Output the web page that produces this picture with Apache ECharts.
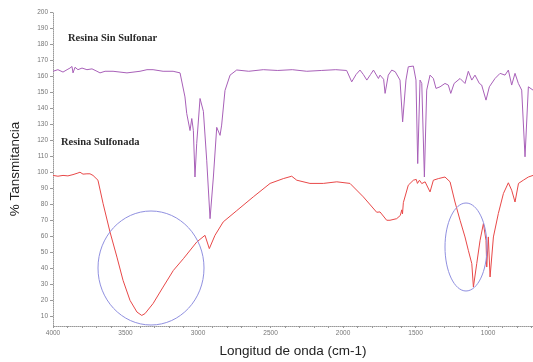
<!DOCTYPE html>
<html>
<head>
<meta charset="utf-8">
<script src="https://cdn.jsdelivr.net/npm/echarts@6/dist/echarts.min.js"></script>
<style>
html,body{margin:0;padding:0;background:#fff;}
#chart{width:533px;height:362px;}
</style>
</head>
<body>
<div id="chart"></div>
<script>
// Wavenumber (cm-1), transmittance (%)
const sinSulfonarWave = [4000,3966,3931,3903,3883,3869,3862,3848,3828,3800,3766,3731,3697,3676,3641,3586,3490,3400,3352,3310,3241,3172,3124,3112,3090,3078,3067,3055,3043,3032,3021,3009,2986,2963,2940,2917,2894,2871,2860,2848,2837,2814,2779,2733,2650,2550,2450,2350,2250,2150,2050,1975,1940,1910,1883,1860,1836,1810,1790,1756,1745,1720,1710,1688,1664,1640,1607,1589,1566,1550,1515,1497,1485,1469,1457,1439,1423,1400,1377,1359,1331,1297,1274,1257,1234,1193,1159,1136,1112,1090,1060,1044,1014,991,952,917,883,860,837,814,791,768,745,722,690];
const sinSulfonarT = [163,164,162.5,164,165,166,162,165.5,164,165,164,164.5,163,162,163,163,162,163,164,164,163,163,162,161,147,136.7,135.6,126,133.5,126,97,118,146,138,107.5,71,97,128,128,123,129.4,151,160.6,163.8,163,164,163.5,164,163,163.5,164,163.5,156.4,161,163.75,161,157.5,161,163.75,158.5,160.6,158,149.2,160.6,163.75,162.7,157.5,131.4,157.5,165.8,166.25,157.5,105.4,157.5,155.4,97,151.25,160.6,158.5,152.3,153.3,155.4,154.4,149.2,155.4,158.5,155.4,163,157.5,160.6,155.4,154.4,145,153.3,158.5,161.7,160.6,163.75,154.4,161.7,155.4,151.25,109.6,153.3,151.25];

const sulfonadaWave = [4000,3966,3931,3897,3862,3828,3814,3793,3766,3745,3724,3690,3655,3607,3559,3517,3469,3421,3388,3366,3310,3241,3170,3101,3009,2952,2922,2883,2826,2733,2619,2503,2412,2354,2319,2228,2136,2043,1952,1860,1768,1745,1699,1676,1630,1605,1595,1590,1584,1550,1515,1495,1487,1473,1457,1434,1400,1377,1343,1297,1262,1228,1193,1159,1136,1112,1101,1078,1055,1032,1014,1009,998,986,963,929,894,860,837,814,790,757,722,690];
const sulfonadaT = [98,97.5,98,97.7,98.5,99.5,100,98.8,99,99,98,95,80.6,62.7,47,32.5,20,12.7,10.6,11.7,18,28.3,38.7,46,56.4,60.6,52.3,60.6,69,76,84.6,93,96,97.5,95,93,93,94,93,84.6,75,75.2,70,70,71,73,76.5,74,81,91.9,95,95.5,93,95,92.9,94,87.7,95,96,97,94,81.4,70,59.6,51.25,42.9,28.3,42.9,57.5,67.9,57.5,40.8,59.6,34.6,59.6,74.2,86.7,93.4,88.75,81.4,93,95,97,98];

const yTicks = [10,20,30,40,50,60,70,80,90,100,110,120,130,140,150,160,170,180,190,200];
const xTicks = [1000,1500,2000,2500,3000,3500,4000];
const xMinorTicks = [];
for (let v = 700; v <= 4000; v += 100) xMinorTicks.push(v);

const chart = echarts.init(document.getElementById('chart'), null, {renderer:'canvas'});
const zip = (a,b) => a.map((v,i)=>[v,b[i]]);

chart.setOption({
  animation:false,
  backgroundColor:'#fff',
  grid:{left:53,right:0,top:12,bottom:36,outerBoundsMode:'none'},
  xAxis:{
    type:'value', inverse:true, min:690, max:4000,
    name:'Longitud de onda (cm-1)', nameLocation:'middle', nameGap:18,
    nameTextStyle:{fontFamily:'Liberation Sans', fontSize:13.5, color:'#222'},
    axisLine:{show:true, lineStyle:{color:'#999', type:'dotted', width:1}},
    axisTick:{show:true, length:2, customValues:xMinorTicks, lineStyle:{color:'#999'}},
    axisLabel:{customValues:xTicks, formatter:(v)=>String(v), fontFamily:'Liberation Sans', fontSize:6.5, color:'#777', margin:4},
    splitLine:{show:false}
  },
  yAxis:{
    type:'value', min:4, max:200,
    name:'% Tansmitancia', nameLocation:'middle', nameGap:31, nameRotate:90,
    nameTextStyle:{fontFamily:'Liberation Sans', fontSize:13.5, color:'#222'},
    axisLine:{show:true, lineStyle:{color:'#999', type:'dotted', width:1}},
    axisTick:{show:true, length:3, customValues:yTicks, lineStyle:{color:'#999'}},
    axisLabel:{customValues:yTicks, fontFamily:'Liberation Sans', fontSize:6.5, color:'#777', margin:5},
    splitLine:{show:false}
  },
  series:[
    {name:'Resina Sin Sulfonar', type:'line', data:zip(sinSulfonarWave,sinSulfonarT), showSymbol:false, smooth:false,
     lineStyle:{color:'#a860b8', width:1}, itemStyle:{color:'#a860b8'}},
    {name:'Resina Sulfonada', type:'line', data:zip(sulfonadaWave,sulfonadaT), showSymbol:false, smooth:false,
     lineStyle:{color:'#e84848', width:1}, itemStyle:{color:'#e84848'}}
  ],
  graphic:[
    {type:'text', left:68, top:33, style:{text:'Resina Sin Sulfonar', font:'bold 10.5px "Liberation Serif"', fill:'#2a2a2a'}},
    {type:'text', left:61, top:137, style:{text:'Resina Sulfonada', font:'bold 10.5px "Liberation Serif"', fill:'#2a2a2a'}},
    {type:'ellipse', shape:{cx:151, cy:268, rx:53, ry:57}, style:{fill:'none', stroke:'#9090e0', lineWidth:1}, z:10},
    {type:'ellipse', shape:{cx:466, cy:247, rx:21, ry:44}, style:{fill:'none', stroke:'#9090e0', lineWidth:1}, z:10}
  ]
});
</script>
</body>
</html>
